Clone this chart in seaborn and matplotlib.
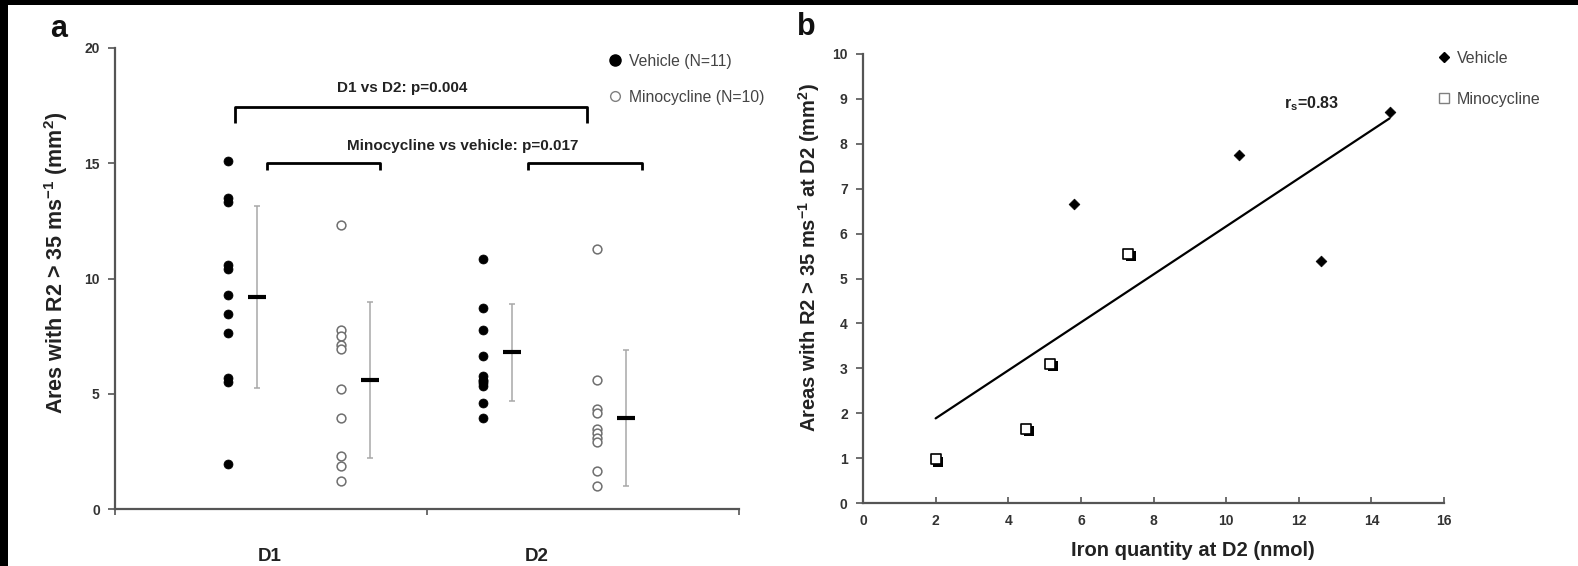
import numpy as np
import pandas as pd
import matplotlib
matplotlib.use("Agg")
import matplotlib.pyplot as plt
import seaborn as sns
from matplotlib import patheffects as pe
from matplotlib.patches import Rectangle
from matplotlib.lines import Line2D

# ---------------- data ----------------
days = ["D1", "D2"]
groups = ["Vehicle", "Minocycline"]
vehicle_d1 = [15.1, 13.5, 13.3, 10.6, 10.4, 9.3, 8.45, 7.65, 5.7, 5.5, 1.95]
mino_d1 = [12.3, 7.75, 7.5, 7.1, 6.95, 5.2, 3.95, 2.3, 1.85, 1.2]
vehicle_d2 = [10.85, 8.7, 7.75, 6.65, 5.75, 5.6, 5.55, 5.45, 5.35, 4.6, 3.95]
mino_d2 = [11.3, 5.6, 4.35, 4.15, 3.45, 3.3, 3.1, 2.9, 1.65, 1.0]
# mean and SD bars as drawn (Vehicle D1, Mino D1, Vehicle D2, Mino D2)
group_means = [9.2, 5.6, 6.8, 3.95]
group_sds = [3.95, 3.4, 2.1, 2.95]

iron_vehicle = [5.8, 10.35, 12.6, 14.5]
area_vehicle = [6.65, 7.75, 5.4, 8.7]
iron_mino = [2.0, 4.5, 5.15, 7.3]
area_mino = [0.97, 1.65, 3.1, 5.55]

legend_a = ["Vehicle (N=11)", "Minocycline (N=10)"]
legend_b = ["Vehicle", "Minocycline"]
p_days = "D1 vs D2: p=0.004"
p_treat = "Minocycline vs vehicle: p=0.017"

# ---------------- layout ----------------
strip_x = [0.362, 0.724, 1.179, 1.545]   # column positions (V-D1, M-D1, V-D2, M-D2)
bar_dx = 0.092

sns.set_theme(style="ticks")
plt.rcParams["font.family"] = ["Liberation Sans", "DejaVu Sans"]
plt.rcParams["mathtext.fontset"] = "custom"
plt.rcParams["mathtext.rm"] = "Liberation Sans"
plt.rcParams["mathtext.bf"] = "Liberation Sans:bold"
plt.rcParams["mathtext.it"] = "Liberation Sans:italic"

rows = []
series = [("Vehicle", "D1", vehicle_d1), ("Minocycline", "D1", mino_d1),
          ("Vehicle", "D2", vehicle_d2), ("Minocycline", "D2", mino_d2)]
for (g, d, vals), xp in zip(series, strip_x):
    for v in vals:
        rows.append({"group": g, "day": d, "value": v, "xpos": xp})
df_a = pd.DataFrame(rows)

df_b = pd.DataFrame({
    "iron": iron_vehicle + iron_mino,
    "area": area_vehicle + area_mino,
    "group": ["Vehicle"] * len(iron_vehicle) + ["Minocycline"] * len(iron_mino),
})

fig = plt.figure(figsize=(15.78, 5.66), dpi=100)
axa = fig.add_axes([0.0729, 0.1007, 0.3954, 0.8145])
axb = fig.add_axes([0.5469, 0.1113, 0.3682, 0.7933])

spine_c = "#555555"
tick_c = "#333333"

# ---------------- panel a ----------------
sns.scatterplot(data=df_a[df_a.group == "Vehicle"], x="xpos", y="value",
                color="black", edgecolor="black", s=42, linewidth=0.5, ax=axa,
                legend=False, zorder=3)
sns.scatterplot(data=df_a[df_a.group == "Minocycline"], x="xpos", y="value",
                color="white", edgecolor="#6f6f6f", s=40, linewidth=1.1, ax=axa,
                legend=False, zorder=3)
bar_x = [x + bar_dx for x in strip_x]
axa.errorbar(bar_x, group_means, yerr=group_sds, fmt="none", ecolor="#a8a8a8",
             elinewidth=1.1, capsize=2.5, capthick=1.1, zorder=2)
axa.plot(bar_x, group_means, ls="none", marker="_", ms=13, mew=3,
         color="black", zorder=4)

axa.set_xlim(0, 2)
axa.set_ylim(0, 20)
axa.set_yticks([0, 5, 10, 15, 20])
axa.set_xticks([0.497, 1.353])
axa.set_xticklabels(days)
axa.set_xticks([0, 1, 2], minor=True)
axa.tick_params(axis="x", which="major", length=0, pad=28, labelsize=13.5,
                colors="#222222")
axa.tick_params(axis="x", which="minor", length=4, width=1.2, color=spine_c,
                bottom=True)
axa.tick_params(axis="y", length=5, width=1.2, color=spine_c, labelsize=10,
                labelcolor=tick_c, pad=6)
for t in axa.get_xticklabels() + axa.get_yticklabels():
    t.set_fontweight("bold")
axa.set_xlabel("")
axa.set_ylabel(r"Ares with R2 > 35 ms$^{\mathbf{-1}}$ (mm$^{\mathbf{2}}$)",
               fontsize=15.5, fontweight="bold", color="#222222")
axa.yaxis.set_label_coords(-0.072, 0.534)

# brackets
bk = dict(color="black", lw=2.0, solid_capstyle="butt", clip_on=False)
axa.plot([0.385, 0.385, 1.513, 1.513], [16.75, 17.45, 17.45, 16.75], **bk)
axa.plot([0.487, 0.487, 0.849, 0.849], [14.7, 15.0, 15.0, 14.7], **bk)
axa.plot([1.324, 1.324, 1.689, 1.689], [14.7, 15.0, 15.0, 14.7], **bk)
axa.text(0.92, 18.25, p_days, ha="center", va="center", fontsize=11,
         fontweight="bold", color="#222222")
axa.text(1.113, 15.75, p_treat, ha="center", va="center", fontsize=11,
         fontweight="bold", color="#222222")

ha = [Line2D([], [], ls="none", marker="o", ms=8, mfc="black", mec="black"),
      Line2D([], [], ls="none", marker="o", ms=7, mfc="white", mec="#808080",
             mew=1.0)]
lg = axa.legend(ha, legend_a, loc="upper left", bbox_to_anchor=(0.789, 0.987),
                frameon=False, fontsize=11.3, labelspacing=1.31,
                handletextpad=0.35, handlelength=1.0, borderpad=0,
                borderaxespad=0)
for t in lg.get_texts():
    t.set_color("#444444")

# ---------------- panel b ----------------
sns.regplot(data=df_b, x="iron", y="area", scatter=False, ci=None,
            truncate=True, color="black", line_kws={"lw": 1.6}, ax=axb)
sns.scatterplot(data=df_b[df_b.group == "Vehicle"], x="iron", y="area",
                marker="D", color="black", edgecolor="black", s=30,
                linewidth=0.5, ax=axb, legend=False, zorder=3)
sns.scatterplot(data=df_b[df_b.group == "Minocycline"], x="iron", y="area",
                marker="s", color="white", edgecolor="black", s=52,
                linewidth=1.2, ax=axb, legend=False, zorder=3)
axb.collections[-1].set_path_effects(
    [pe.SimplePatchShadow(offset=(1.8, -1.8), shadow_rgbFace="black", alpha=1.0),
     pe.Normal()])

axb.set_xlim(0, 16)
axb.set_ylim(0, 10)
axb.set_xticks(np.arange(0, 17, 2))
axb.set_yticks(np.arange(0, 11, 1))
axb.tick_params(axis="x", direction="in", length=4, width=1.2, color=spine_c,
                labelsize=10, labelcolor=tick_c, pad=8)
axb.tick_params(axis="y", length=5, width=1.2, color=spine_c, labelsize=10,
                labelcolor=tick_c, pad=6)
for t in axb.get_xticklabels() + axb.get_yticklabels():
    t.set_fontweight("bold")
axb.set_xlabel("Iron quantity at D2 (nmol)", fontsize=14.5, fontweight="bold",
               color="#222222")
axb.xaxis.set_label_coords(0.568, -0.085)
axb.set_ylabel(r"Areas with R2 > 35 ms$^{\mathbf{-1}}$ at D2 (mm$^{\mathbf{2}}$)",
               fontsize=14.5, fontweight="bold", color="#222222")
axb.yaxis.set_label_coords(-0.0706, 0.548)
axb.text(12.35, 8.9, r"r$_{\mathbf{s}}$=0.83", ha="center", va="center",
         fontsize=11.5, fontweight="bold", color="#222222")

hb = [Line2D([], [], ls="none", marker="D", ms=5, mfc="black", mec="black"),
      Line2D([], [], ls="none", marker="s", ms=7, mfc="white", mec="#808080",
             mew=1.0)]
lgb = axb.legend(hb, legend_b, loc="upper left", bbox_to_anchor=(0.986, 1.007),
                 frameon=False, fontsize=11.5, labelspacing=1.64,
                 handletextpad=0.3, handlelength=1.0, borderpad=0,
                 borderaxespad=0)
for t in lgb.get_texts():
    t.set_color("#444444")

for ax in (axa, axb):
    sns.despine(ax=ax)
    for s in ("left", "bottom"):
        ax.spines[s].set_color(spine_c)
        ax.spines[s].set_linewidth(1.6)

fig.text(50 / 1578, 1 - 37 / 566, "a", fontsize=22, fontweight="bold",
         color="#111111", va="baseline")
fig.text(797 / 1578, 1 - 35 / 566, "b", fontsize=22, fontweight="bold",
         color="#111111", va="baseline")

# black scan border at top and left
fig.add_artist(Rectangle((0, 1 - 5 / 566), 1, 5 / 566, transform=fig.transFigure,
                         color="black", lw=0))
fig.add_artist(Rectangle((0, 0), 8 / 1578, 1, transform=fig.transFigure,
                         color="black", lw=0))

fig.savefig("out.png", dpi=100)
